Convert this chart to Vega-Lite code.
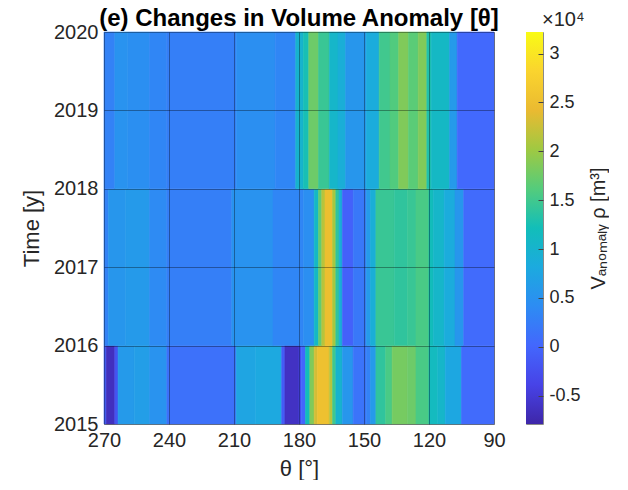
{
  "$schema": "https://vega.github.io/schema/vega-lite/v6.json",
  "background": "white",
  "padding": {"left": 20, "top": 6, "right": 0, "bottom": 0},
  "bounds": "flush",
  "spacing": 32,
  "config": {
    "font": "Liberation Sans",
    "axis": {
      "labelFont": "Liberation Sans",
      "labelFontSize": 20,
      "labelColor": "#262626",
      "labelFlush": false,
      "titleFont": "Liberation Sans",
      "titleFontSize": 22,
      "titleFontWeight": "normal",
      "titleColor": "#262626",
      "domain": false,
      "ticks": false,
      "grid": true,
      "gridColor": "#000000",
      "gridOpacity": 0.35
    },
    "title": {"font": "Liberation Sans", "color": "#000000"}
  },
  "hconcat": [
    {
      "width": 390,
      "height": 392,
      "title": {"text": "(e) Changes in Volume Anomaly [θ]", "fontSize": 24, "fontWeight": "bold", "anchor": "middle", "offset": -9},
      "view": {"stroke": "#bdbdbd"},
      "data": {
        "values": [
          {"t1": 270, "t2": 269, "y1": 2015, "y2": 2016, "v": 0.0},
          {"t1": 269, "t2": 265, "y1": 2015, "y2": 2016, "v": -0.65},
          {"t1": 265, "t2": 263.5, "y1": 2015, "y2": 2016, "v": -0.2},
          {"t1": 263.5, "t2": 256, "y1": 2015, "y2": 2016, "v": 0.6},
          {"t1": 256, "t2": 249, "y1": 2015, "y2": 2016, "v": 0.65},
          {"t1": 249, "t2": 241, "y1": 2015, "y2": 2016, "v": 0.5},
          {"t1": 241, "t2": 209, "y1": 2015, "y2": 2016, "v": 0.12},
          {"t1": 209, "t2": 200, "y1": 2015, "y2": 2016, "v": 0.75},
          {"t1": 200, "t2": 188, "y1": 2015, "y2": 2016, "v": 0.8},
          {"t1": 188, "t2": 186.5, "y1": 2015, "y2": 2016, "v": -0.1},
          {"t1": 186.5, "t2": 180, "y1": 2015, "y2": 2016, "v": -0.62},
          {"t1": 180, "t2": 179, "y1": 2015, "y2": 2016, "v": -0.3},
          {"t1": 179, "t2": 177, "y1": 2015, "y2": 2016, "v": 0.0},
          {"t1": 177, "t2": 175, "y1": 2015, "y2": 2016, "v": 1.2},
          {"t1": 175, "t2": 173, "y1": 2015, "y2": 2016, "v": 1.85},
          {"t1": 173, "t2": 171.5, "y1": 2015, "y2": 2016, "v": 2.3},
          {"t1": 171.5, "t2": 166, "y1": 2015, "y2": 2016, "v": 2.52},
          {"t1": 166, "t2": 164.5, "y1": 2015, "y2": 2016, "v": 2.15},
          {"t1": 164.5, "t2": 163, "y1": 2015, "y2": 2016, "v": 1.5},
          {"t1": 163, "t2": 160, "y1": 2015, "y2": 2016, "v": 1.0},
          {"t1": 160, "t2": 155, "y1": 2015, "y2": 2016, "v": 0.55},
          {"t1": 155, "t2": 149, "y1": 2015, "y2": 2016, "v": 0.15},
          {"t1": 149, "t2": 147, "y1": 2015, "y2": 2016, "v": 0.3},
          {"t1": 147, "t2": 144.5, "y1": 2015, "y2": 2016, "v": 0.6},
          {"t1": 144.5, "t2": 140, "y1": 2015, "y2": 2016, "v": 1.4},
          {"t1": 140, "t2": 137, "y1": 2015, "y2": 2016, "v": 1.55},
          {"t1": 137, "t2": 130, "y1": 2015, "y2": 2016, "v": 1.8},
          {"t1": 130, "t2": 126, "y1": 2015, "y2": 2016, "v": 1.75},
          {"t1": 126, "t2": 120, "y1": 2015, "y2": 2016, "v": 1.55},
          {"t1": 120, "t2": 116, "y1": 2015, "y2": 2016, "v": 1.15},
          {"t1": 116, "t2": 112.5, "y1": 2015, "y2": 2016, "v": 1.05},
          {"t1": 112.5, "t2": 105, "y1": 2015, "y2": 2016, "v": 0.78},
          {"t1": 105, "t2": 90, "y1": 2015, "y2": 2016, "v": 0.05},

          {"t1": 270, "t2": 268, "y1": 2016, "y2": 2018, "v": 0.3},
          {"t1": 268, "t2": 260, "y1": 2016, "y2": 2018, "v": 0.55},
          {"t1": 260, "t2": 249, "y1": 2016, "y2": 2018, "v": 0.6},
          {"t1": 249, "t2": 241, "y1": 2016, "y2": 2018, "v": 0.4},
          {"t1": 241, "t2": 211, "y1": 2016, "y2": 2018, "v": 0.27},
          {"t1": 211, "t2": 192, "y1": 2016, "y2": 2018, "v": 0.5},
          {"t1": 192, "t2": 178, "y1": 2016, "y2": 2018, "v": 0.35},
          {"t1": 178, "t2": 173, "y1": 2016, "y2": 2018, "v": 0.45},
          {"t1": 173, "t2": 171, "y1": 2016, "y2": 2018, "v": 1.1},
          {"t1": 171, "t2": 169.5, "y1": 2016, "y2": 2018, "v": 1.7},
          {"t1": 169.5, "t2": 168, "y1": 2016, "y2": 2018, "v": 2.15},
          {"t1": 168, "t2": 164.5, "y1": 2016, "y2": 2018, "v": 2.5},
          {"t1": 164.5, "t2": 163, "y1": 2016, "y2": 2018, "v": 2.05},
          {"t1": 163, "t2": 161.5, "y1": 2016, "y2": 2018, "v": 1.4},
          {"t1": 161.5, "t2": 160, "y1": 2016, "y2": 2018, "v": 0.9},
          {"t1": 160, "t2": 155, "y1": 2016, "y2": 2018, "v": -0.05},
          {"t1": 155, "t2": 149, "y1": 2016, "y2": 2018, "v": 0.2},
          {"t1": 149, "t2": 147, "y1": 2016, "y2": 2018, "v": 0.6},
          {"t1": 147, "t2": 144.5, "y1": 2016, "y2": 2018, "v": 0.9},
          {"t1": 144.5, "t2": 136, "y1": 2016, "y2": 2018, "v": 1.45},
          {"t1": 136, "t2": 130, "y1": 2016, "y2": 2018, "v": 1.4},
          {"t1": 130, "t2": 126, "y1": 2016, "y2": 2018, "v": 1.45},
          {"t1": 126, "t2": 120, "y1": 2016, "y2": 2018, "v": 1.55},
          {"t1": 120, "t2": 118, "y1": 2016, "y2": 2018, "v": 1.2},
          {"t1": 118, "t2": 113, "y1": 2016, "y2": 2018, "v": 1.05},
          {"t1": 113, "t2": 108, "y1": 2016, "y2": 2018, "v": 0.85},
          {"t1": 108, "t2": 104, "y1": 2016, "y2": 2018, "v": 0.55},
          {"t1": 104, "t2": 90, "y1": 2016, "y2": 2018, "v": 0.05},

          {"t1": 270, "t2": 265, "y1": 2018, "y2": 2020, "v": 0.3},
          {"t1": 265, "t2": 259, "y1": 2018, "y2": 2020, "v": 0.5},
          {"t1": 259, "t2": 249, "y1": 2018, "y2": 2020, "v": 0.45},
          {"t1": 249, "t2": 241, "y1": 2018, "y2": 2020, "v": 0.35},
          {"t1": 241, "t2": 209, "y1": 2018, "y2": 2020, "v": 0.27},
          {"t1": 209, "t2": 191, "y1": 2018, "y2": 2020, "v": 0.45},
          {"t1": 191, "t2": 181.5, "y1": 2018, "y2": 2020, "v": 0.35},
          {"t1": 181.5, "t2": 178, "y1": 2018, "y2": 2020, "v": 1.0},
          {"t1": 178, "t2": 175.5, "y1": 2018, "y2": 2020, "v": 1.25},
          {"t1": 175.5, "t2": 171, "y1": 2018, "y2": 2020, "v": 1.75},
          {"t1": 171, "t2": 166, "y1": 2018, "y2": 2020, "v": 1.45},
          {"t1": 166, "t2": 162, "y1": 2018, "y2": 2020, "v": 1.05},
          {"t1": 162, "t2": 158.5, "y1": 2018, "y2": 2020, "v": 0.9},
          {"t1": 158.5, "t2": 149, "y1": 2018, "y2": 2020, "v": 0.55},
          {"t1": 149, "t2": 143, "y1": 2018, "y2": 2020, "v": 0.85},
          {"t1": 143, "t2": 138, "y1": 2018, "y2": 2020, "v": 1.5},
          {"t1": 138, "t2": 134, "y1": 2018, "y2": 2020, "v": 1.6},
          {"t1": 134, "t2": 129.5, "y1": 2018, "y2": 2020, "v": 1.85},
          {"t1": 129.5, "t2": 125, "y1": 2018, "y2": 2020, "v": 1.65},
          {"t1": 125, "t2": 121, "y1": 2018, "y2": 2020, "v": 1.85},
          {"t1": 121, "t2": 119, "y1": 2018, "y2": 2020, "v": 1.3},
          {"t1": 119, "t2": 110.5, "y1": 2018, "y2": 2020, "v": 1.1},
          {"t1": 110.5, "t2": 107, "y1": 2018, "y2": 2020, "v": 0.6},
          {"t1": 107, "t2": 90, "y1": 2018, "y2": 2020, "v": 0.03}
        ]
      },
      "mark": {"type": "rect", "strokeWidth": 0.6},
      "encoding": {
        "x": {
          "field": "t1", "type": "quantitative",
          "scale": {"domain": [90, 270], "reverse": true, "nice": false, "zero": false},
          "axis": {"title": "θ [°]", "values": [270, 240, 210, 180, 150, 120, 90], "format": "d", "labelPadding": 6, "titlePadding": 8, "zindex": 1}
        },
        "x2": {"field": "t2"},
        "y": {
          "field": "y1", "type": "quantitative",
          "scale": {"domain": [2015, 2020], "nice": false, "zero": false},
          "axis": {"title": "Time [y]", "values": [2015, 2016, 2017, 2018, 2019, 2020], "format": "d", "labelPadding": 6, "titlePadding": 10, "zindex": 1}
        },
        "y2": {"field": "y2"},
        "color": {
          "field": "v", "type": "quantitative", "legend": null,
          "scale": {
            "domain": [-0.79, -0.389, 0.012, 0.413, 0.814, 1.215, 1.616, 2.017, 2.418, 2.819, 3.22],
            "range": ["#3e26a8", "#4743e7", "#4367fd", "#2d8cf3", "#1caadf", "#12beb9", "#54cc7c", "#9fc942", "#eaba31", "#fad42e", "#f9fb15"],
            "interpolate": "rgb"
          }
        },
        "stroke": {
          "field": "v", "type": "quantitative", "legend": null,
          "scale": {
            "domain": [-0.79, -0.389, 0.012, 0.413, 0.814, 1.215, 1.616, 2.017, 2.418, 2.819, 3.22],
            "range": ["#3e26a8", "#4743e7", "#4367fd", "#2d8cf3", "#1caadf", "#12beb9", "#54cc7c", "#9fc942", "#eaba31", "#fad42e", "#f9fb15"],
            "interpolate": "rgb"
          }
        }
      }
    },
    {
      "width": 17,
      "height": 392,
      "view": {"stroke": "#8a8a8a"},
      "title": {"text": "×10⁴", "anchor": "start", "fontSize": 20, "fontWeight": "normal", "color": "#262626", "dx": 16, "offset": 2},
      "data": {"values": [{"lo": -0.79, "hi": 3.22}]},
      "mark": {
        "type": "rect",
        "color": {
          "gradient": "linear", "x1": 0, "y1": 1, "x2": 0, "y2": 0,
          "stops": [
            {"offset": 0, "color": "#3e26a8"},
            {"offset": 0.1, "color": "#4743e7"},
            {"offset": 0.2, "color": "#4367fd"},
            {"offset": 0.3, "color": "#2d8cf3"},
            {"offset": 0.4, "color": "#1caadf"},
            {"offset": 0.5, "color": "#12beb9"},
            {"offset": 0.6, "color": "#54cc7c"},
            {"offset": 0.7, "color": "#9fc942"},
            {"offset": 0.8, "color": "#eaba31"},
            {"offset": 0.9, "color": "#fad42e"},
            {"offset": 1, "color": "#f9fb15"}
          ]
        }
      },
      "encoding": {
        "y": {
          "field": "lo", "type": "quantitative",
          "scale": {"domain": [-0.79, 3.22], "nice": false, "zero": false},
          "axis": {
            "orient": "right", "grid": false, "ticks": true, "tickSize": -5, "tickColor": "#444444", "zindex": 1,
            "values": [-0.5, 0, 0.5, 1, 1.5, 2, 2.5, 3], "labelExpr": "datum.value + ''",
            "labelFontSize": 18, "labelPadding": 11,
            "title": "Vₐₙₒₘₐₗᵧ ρ [m³]", "titleAngle": 270, "titleBaseline": "top", "titleFontSize": 20, "titlePadding": 8
          }
        },
        "y2": {"field": "hi"}
      }
    }
  ]
}
